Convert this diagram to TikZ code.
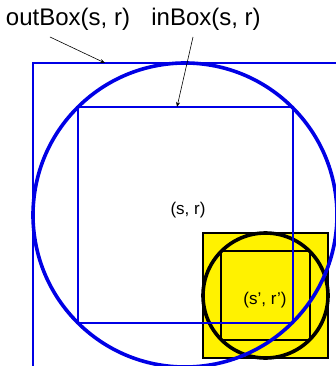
\documentclass[tikz,border=0pt]{standalone}
\usepackage{fontspec}
\setmainfont{Liberation Sans}
\usetikzlibrary{arrows.meta}

\begin{document}
\begin{tikzpicture}[x=1pt, y=-1pt,
		bluebox/.style={draw=blue!90!black, line width=2pt},
		bluering/.style={draw=blue!90!black, line width=3.6pt},
		blackbox/.style={draw=black, line width=2pt},
		blackring/.style={draw=black, line width=3.6pt},
		lbl/.style={inner sep=0pt, font=\fontsize{24}{28}\selectfont},
		small/.style={inner sep=0pt, font=\fontsize{17}{20}\selectfont},
		pointer/.style={-{Stealth[length=5pt, width=4pt]}, black, line width=0.6pt}]
	\useasboundingbox (0,0) rectangle (336,366);
	% the (s', r') box
	\fill[yellow] (203,233) rectangle (328,358);
	\draw[blackbox] (203,233) rectangle (328,358);
	\draw[blackring] (265.5,295.5) circle (62.5);
	\draw[blackbox] (221.3,251.3) rectangle (309.7,339.7);
	% the (s, r) boxes
	\draw[bluebox] (33,63) rectangle (337,367);
	\draw[bluering] (185,215) circle (152);
	\draw[bluebox] (77.5,107.5) rectangle (292.5,322.5);
	\node[small] (sr) at (188,210) {(s, r)};
	\node[small] (srp) at (265,300) {(s’, r’)};
	% labels
	\node[lbl] (outlbl) at (68,19) {outBox(s, r)};
	\node[lbl] (inlbl) at (206,19) {inBox(s, r)};
	\coordinate (outstart) at (50,37);
	\coordinate (instart) at (193,37);
	\coordinate (outend) at (105,63);
	\coordinate (inend) at (177,107);
	\draw[pointer] (outstart) -- (outend);
	\draw[pointer] (instart) -- (inend);
\end{tikzpicture}
\end{document}
